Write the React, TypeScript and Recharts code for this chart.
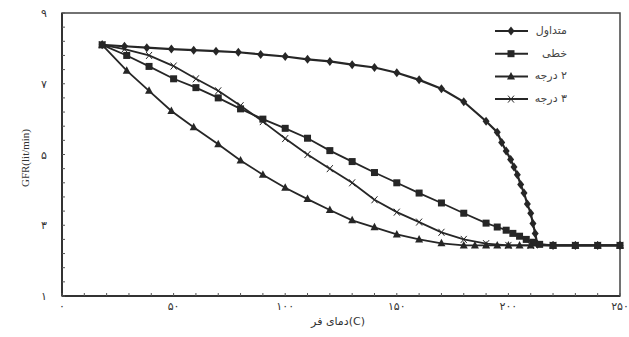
import { LineChart, Line, XAxis, YAxis, ReferenceArea } from "recharts";

// oven temperature (C) vs GFR (lit/min), one pair of arrays per control mode
const convTemp = [18, 28, 38, 49, 59, 69, 79, 89, 100, 110, 120, 130, 140, 150, 160, 170, 180, 190, 195, 197, 199, 201, 202.5, 204, 205.5, 207, 208.5, 210, 211, 212, 213, 220, 230, 240, 250];
const convGfr = [8.1, 8.06, 8.02, 7.98, 7.95, 7.92, 7.89, 7.83, 7.77, 7.69, 7.63, 7.54, 7.46, 7.31, 7.11, 6.86, 6.49, 5.94, 5.63, 5.34, 5.1, 4.86, 4.65, 4.43, 4.15, 3.91, 3.6, 3.34, 3.05, 2.77, 2.46, 2.43, 2.43, 2.43, 2.43];

const linTemp = [18, 29, 39, 50, 60, 70, 80, 90, 100, 110, 120, 130, 140, 150, 160, 170, 180, 190, 195, 199, 202, 205, 208, 211, 214, 220, 230, 240, 250];
const linGfr = [8.1, 7.8, 7.49, 7.14, 6.89, 6.6, 6.29, 6.0, 5.74, 5.46, 5.11, 4.8, 4.49, 4.2, 3.91, 3.63, 3.34, 3.06, 2.95, 2.86, 2.77, 2.69, 2.6, 2.52, 2.46, 2.43, 2.43, 2.43, 2.43];

const quadTemp = [18, 29, 39, 49, 59, 70, 80, 90, 100, 110, 120, 130, 140, 150, 160, 170, 180, 185, 190, 195, 200, 205, 210, 220, 230, 240, 250];
const quadGfr = [8.1, 7.37, 6.8, 6.23, 5.77, 5.29, 4.83, 4.43, 4.06, 3.74, 3.43, 3.14, 2.94, 2.74, 2.6, 2.49, 2.43, 2.43, 2.43, 2.43, 2.43, 2.43, 2.43, 2.43, 2.43, 2.43, 2.43];

const cubTemp = [18, 28, 39, 50, 60, 70, 80, 90, 100, 110, 120, 130, 140, 150, 160, 170, 180, 190, 200, 210, 220, 230, 240, 250];
const cubGfr = [8.1, 7.98, 7.8, 7.5, 7.14, 6.8, 6.38, 5.93, 5.45, 5.0, 4.6, 4.2, 3.72, 3.37, 3.09, 2.8, 2.6, 2.48, 2.43, 2.43, 2.43, 2.43, 2.43, 2.43];

const seriesNames = ["متداول", "خطی", "۲ درجه", "۳ درجه"];
const xTitle = "دمای فر(C)";
const yTitle = "GFR(lit/min)";

const xTicks = [0, 10, 20, 30, 40, 50, 60, 70, 80, 90, 100, 110, 120, 130, 140, 150, 160, 170, 180, 190, 200, 210, 220, 230, 240, 250];
const xTickLabels: Record<number, string> = { 0: "۰", 50: "۵۰", 100: "۱۰۰", 150: "۱۵۰", 200: "۲۰۰", 250: "۲۵۰" };
const yTicks = [1, 1.4, 1.8, 2.2, 2.6, 3, 3.4, 3.8, 4.2, 4.6, 5, 5.4, 5.8, 6.2, 6.6, 7, 7.4, 7.8, 8.2, 8.6, 9];
const yTickLabels: Record<number, string> = { 1: "۱", 3: "۳", 5: "۵", 7: "۷", 9: "۹" };

const INK = "#262626";
const FA_FONT = "'DejaVu Sans', sans-serif";

const rows = (t: number[], g: number[]) => t.map((temp, i) => ({ temp, gfr: g[i] }));

const Diamond = ({ cx, cy }: any) => (
  <path d={`M${cx},${cy - 4.5}L${cx + 3.5},${cy}L${cx},${cy + 4.5}L${cx - 3.5},${cy}Z`} fill={INK} />
);
const Square = ({ cx, cy }: any) => <rect x={cx - 3.5} y={cy - 3.5} width={7} height={7} fill={INK} />;
const Triangle = ({ cx, cy }: any) => (
  <path d={`M${cx},${cy - 4.5}L${cx + 4},${cy + 3}L${cx - 4},${cy + 3}Z`} fill={INK} />
);
const Cross = ({ cx, cy }: any) => (
  <path d={`M${cx - 3},${cy + 3.5}L${cx + 3},${cy - 3.5}M${cx - 3},${cy - 3.5}L${cx + 3},${cy + 3.5}`} stroke={INK} strokeWidth={1} />
);

const markers = [Diamond, Square, Triangle, Cross];

const XTick = ({ x, y, payload }: any) => {
  const label = xTickLabels[payload.value];
  return (
    <g>
      <line x1={x} x2={x} y1={y} y2={y - 3} stroke="#555" />
      {label && (
        <text x={x} y={y + 14} textAnchor="middle" fontSize={11} fill="#333" fontFamily={FA_FONT}>
          {label}
        </text>
      )}
    </g>
  );
};

const YTick = ({ x, y, payload }: any) => {
  const label = yTickLabels[payload.value];
  return (
    <g>
      <line x1={x} x2={x + 3} y1={y} y2={y} stroke="#555" />
      {label && (
        <text x={x - 18} y={y + 4} textAnchor="middle" fontSize={11} fill="#333" fontFamily={FA_FONT}>
          {label}
        </text>
      )}
    </g>
  );
};

const ChartLegend = () => (
  <div style={{ position: "absolute", left: 490, top: 20, width: 130, height: 95 }}>
    <svg width={130} height={95} style={{ position: "absolute", left: 0, top: 0 }}>
      {seriesNames.map((name, i) => {
        const Marker = markers[i];
        const y = 11 + i * 22.7;
        return (
          <g key={name}>
            <line x1={5} x2={38} y1={y} y2={y} stroke={INK} strokeWidth={2} />
            <Marker cx={21} cy={y} />
          </g>
        );
      })}
    </svg>
    {seriesNames.map((name, i) => (
      <div
        key={name}
        style={{
          position: "absolute",
          right: 53,
          top: 11 + i * 22.7 - 8,
          height: 16,
          lineHeight: "16px",
          fontSize: 11,
          color: "#444",
          fontFamily: FA_FONT,
          direction: "rtl",
          whiteSpace: "nowrap",
        }}
      >
        {name}
      </div>
    ))}
  </div>
);

export default function App() {
  const series = [
    rows(convTemp, convGfr),
    rows(linTemp, linGfr),
    rows(quadTemp, quadGfr),
    rows(cubTemp, cubGfr),
  ];

  return (
    <div style={{ position: "absolute", left: 0, top: 0, width: 629, height: 337, background: "#fff" }}>
      <LineChart width={629} height={337} margin={{ top: 13, right: 9, bottom: 0, left: 0 }}>
        <XAxis
          dataKey="temp"
          type="number"
          domain={[0, 250]}
          ticks={xTicks}
          interval={0}
          tick={<XTick />}
          tickLine={false}
          tickSize={0}
          tickMargin={0}
          height={41}
          axisLine={{ stroke: "#333", strokeWidth: 2 }}
          allowDuplicatedCategory={false}
        />
        <YAxis
          type="number"
          domain={[1, 9]}
          ticks={yTicks}
          interval={0}
          tick={<YTick />}
          tickLine={false}
          tickSize={0}
          tickMargin={0}
          width={62}
          axisLine={{ stroke: "#333", strokeWidth: 2 }}
          label={{
            content: () => (
              <text
                x={29}
                y={158}
                transform="rotate(-90 29 158)"
                textAnchor="middle"
                fontSize={11}
                fill="#333"
                fontFamily="'Liberation Serif', serif"
              >
                {yTitle}
              </text>
            ),
          }}
        />
        <ReferenceArea x1={0} x2={250} y1={1} y2={9} fill="none" stroke="#444" strokeWidth={1.5} />
        {series.map((data, i) => {
          const Marker = markers[i];
          return (
            <Line
              key={seriesNames[i]}
              data={data}
              dataKey="gfr"
              name={seriesNames[i]}
              type="linear"
              stroke={INK}
              strokeWidth={i === 0 ? 2.2 : 1.8}
              dot={(p: any) => <Marker key={`${i}-${p.index}`} cx={p.cx} cy={p.cy} />}
              activeDot={false}
              isAnimationActive={false}
            />
          );
        })}
      </LineChart>
      <ChartLegend />
      <div
        style={{
          position: "absolute",
          left: 238,
          width: 200,
          top: 315,
          textAlign: "center",
          fontSize: 11,
          color: "#333",
          fontFamily: FA_FONT,
          direction: "ltr",
          whiteSpace: "nowrap",
        }}
      >
        {xTitle}
      </div>
    </div>
  );
}
